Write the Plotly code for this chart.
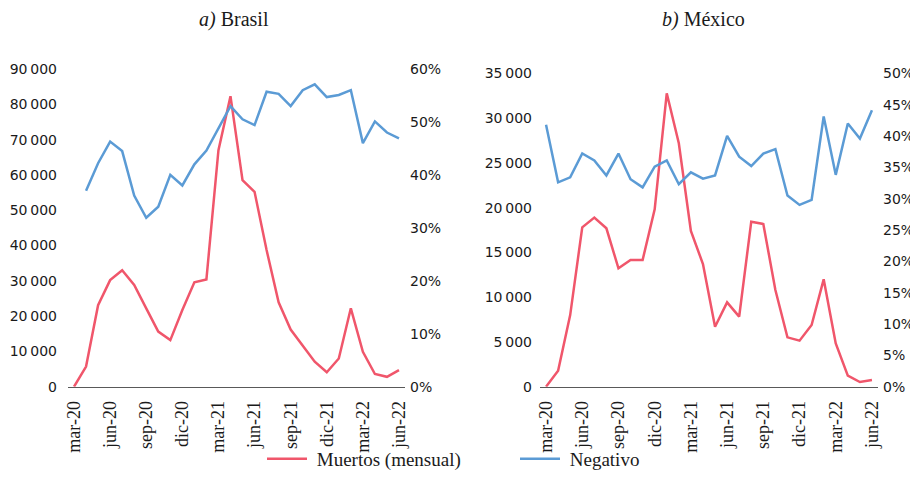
import plotly.graph_objects as go

months = ["mar-20","abr-20","may-20","jun-20","jul-20","ago-20","sep-20","oct-20","nov-20","dic-20",
          "ene-21","feb-21","mar-21","abr-21","may-21","jun-21","jul-21","ago-21","sep-21","oct-21",
          "nov-21","dic-21","ene-22","feb-22","mar-22","abr-22","may-22","jun-22"]

bra_muertos = [0, 5700, 23100, 30200, 33000, 28800, 22200, 15600, 13200, 21700,
               29600, 30400, 67000, 82300, 58500, 55200, 38700, 23900, 16200, 11800,
               7100, 4100, 8000, 22200, 9900, 3600, 2800, 4700]
bra_negativo = [None, 0.370, 0.422, 0.463, 0.445, 0.361, 0.319, 0.340, 0.400, 0.380,
                0.420, 0.446, 0.488, 0.530, 0.505, 0.494, 0.557, 0.553, 0.530, 0.560,
                0.571, 0.547, 0.551, 0.560, 0.460, 0.501, 0.480, 0.469]

mex_muertos = [0, 1790, 8000, 17800, 18880, 17690, 13220, 14150, 14150, 19810,
               32770, 27180, 17390, 13700, 6700, 9420, 7820, 18430, 18170, 10800,
               5510, 5140, 6890, 11990, 4840, 1230, 520, 740]
mex_negativo = [0.418, 0.326, 0.334, 0.372, 0.361, 0.337, 0.372, 0.331, 0.318, 0.351,
                0.361, 0.323, 0.342, 0.332, 0.337, 0.400, 0.367, 0.352, 0.372, 0.379,
                0.305, 0.290, 0.298, 0.431, 0.338, 0.420, 0.396, 0.441]

tick_idx = list(range(0, 28, 3))
tick_lbl = [months[i] for i in tick_idx]

bra_left_vals = list(range(0, 90001, 10000))
mex_left_vals = list(range(0, 35001, 5000))
bra_right_vals = [i / 10 for i in range(0, 7)]
mex_right_vals = [i / 20 for i in range(0, 11)]

RED = "#F0566B"
BLUE = "#5B9BD5"
SERIF = "Liberation Serif"
SANS = "DejaVu Sans"
TXT = "#1a1a1a"

W, H = 918, 489
OFF = 8  # page body margin offset


def fx(px):
    return (px - OFF) / W


def fy(py):
    return 1 - (py - OFF) / H


def fmt_num(v):
    return f"{v:,}".replace(",", "\u2009")


x = list(range(len(months)))
NB = "\u00a0"

fig = go.Figure()
fig.add_trace(go.Scatter(x=x, y=bra_muertos, mode="lines", name=NB + "Muertos (mensual)",
                         line=dict(color=RED, width=2.5), xaxis="x", yaxis="y"))
fig.add_trace(go.Scatter(x=x, y=bra_negativo, mode="lines", name=NB + "Negativo",
                         line=dict(color=BLUE, width=2.5), xaxis="x", yaxis="y2"))
fig.add_trace(go.Scatter(x=x, y=mex_muertos, mode="lines", name="Muertos (mensual)",
                         line=dict(color=RED, width=2.5), xaxis="x2", yaxis="y3", showlegend=False))
fig.add_trace(go.Scatter(x=x, y=mex_negativo, mode="lines", name="Negativo",
                         line=dict(color=BLUE, width=2.5), xaxis="x2", yaxis="y4", showlegend=False))

ybot = fy(386.7)
xcommon = dict(range=[-0.5, 27.5], tickmode="array", tickvals=tick_idx, ticktext=tick_lbl,
               tickangle=-90, showgrid=False, zeroline=False, showline=True, automargin=False,
               linecolor="#595959", linewidth=1.3, ticks="", ticklabelstandoff=6,
               tickfont=dict(family=SERIF, size=18, color=TXT))
ycommon = dict(showgrid=False, zeroline=False, showline=False, ticks="", automargin=False,
               tickfont=dict(family=SANS, size=14, color=TXT))

fig.update_layout(
    template="none",
    width=W, height=H, autosize=False,
    margin=dict(l=0, r=0, t=0, b=0, pad=0),
    paper_bgcolor="white", plot_bgcolor="white",
    showlegend=True,
    legend=dict(orientation="h", x=fx(262), xanchor="left", y=fy(459), yanchor="middle",
                font=dict(family=SERIF, size=19, color=TXT), itemwidth=40,
                entrywidthmode="pixels", entrywidth=198, bgcolor="rgba(0,0,0,0)"),
    xaxis=dict(domain=[fx(68), fx(405)], anchor="y", **xcommon),
    yaxis=dict(domain=[ybot, fy(69)], range=[0, 90000], anchor="x", ticklabelstandoff=10,
               tickvals=bra_left_vals, ticktext=[fmt_num(v) for v in bra_left_vals], **ycommon),
    yaxis2=dict(domain=[ybot, fy(69)], range=[0, 0.6], anchor="x", overlaying="y", side="right",
                ticklabelstandoff=4,
                tickvals=bra_right_vals, ticktext=[f"{int(round(v*100))}%" for v in bra_right_vals], **ycommon),
    xaxis2=dict(domain=[fx(540), fx(878)], anchor="y3", **xcommon),
    yaxis3=dict(domain=[ybot, fy(73.3)], range=[0, 35000], anchor="x2", ticklabelstandoff=7,
                tickvals=mex_left_vals, ticktext=[fmt_num(v) for v in mex_left_vals], **ycommon),
    yaxis4=dict(domain=[ybot, fy(73.3)], range=[0, 0.5], anchor="x2", overlaying="y3", side="right",
                ticklabelstandoff=4,
                tickvals=mex_right_vals, ticktext=[f"{int(round(v*100))}%" for v in mex_right_vals], **ycommon),
    annotations=[
        dict(text="<i>a)</i> Brasil", x=fx(234), y=fy(19), xref="paper", yref="paper",
             xanchor="center", yanchor="middle",
             showarrow=False, font=dict(family=SERIF, size=20, color=TXT)),
        dict(text="<i>b)</i> México", x=fx(703), y=fy(19), xref="paper", yref="paper",
             xanchor="center", yanchor="middle",
             showarrow=False, font=dict(family=SERIF, size=20, color=TXT)),
    ],
)

fig.write_html("out.html")
